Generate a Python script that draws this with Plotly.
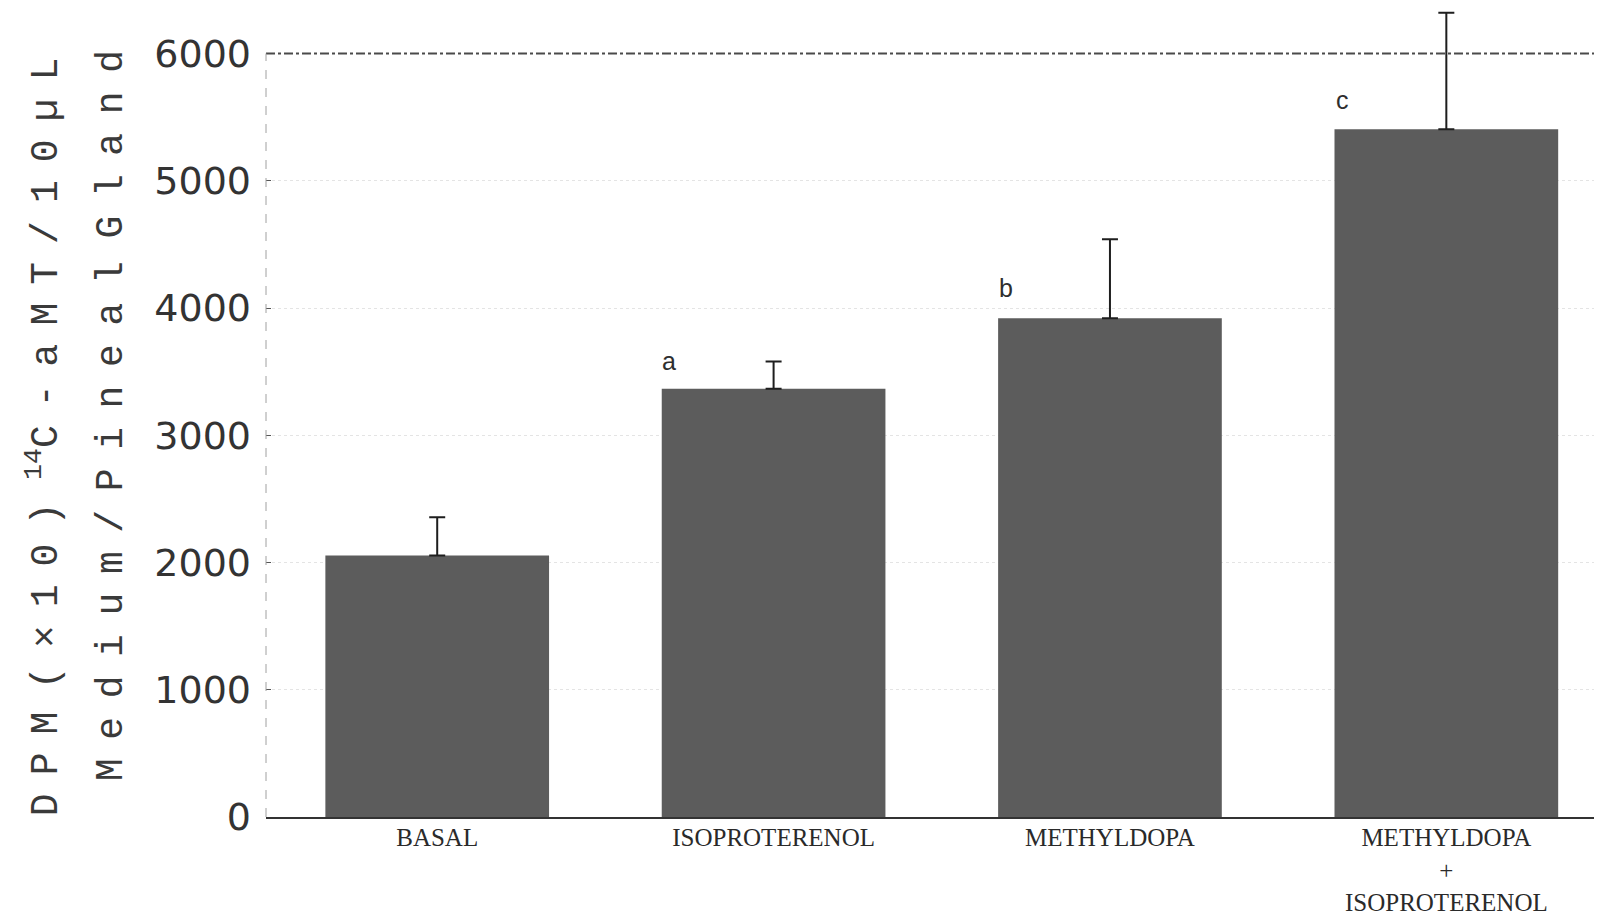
import plotly.graph_objects as go

categories = ["BASAL", "ISOPROTERENOL", "METHYLDOPA", "METHYLDOPA<br>+<br>ISOPROTERENOL"]
means = [2055, 3365, 3920, 5405]
sem = [300, 215, 620, 915]
sig_labels = ["", "a", "b", "c"]
sig_label_y = [None, 3582, 4156, 5633]
y_ticks = [0, 1000, 2000, 3000, 4000, 5000, 6000]
title_line1 = ["D", "P", "M", " ", "(", "×", "1", "0", ")", " ", "<sup>14</sup>C", "-", "a", "M", "T", "/", "1", "0", "µ", "L"]
title_line2 = ["M", "e", "d", "i", "u", "m", "/", "P", "i", "n", "e", "a", "l", " ", "G", "l", "a", "n", "d"]

x_idx = list(range(len(categories)))

fig = go.Figure()
fig.add_trace(go.Bar(
    x=x_idx, y=means,
    marker=dict(color="#5c5c5c", line=dict(width=0)),
    width=0.665,
    error_y=dict(type="data", array=sem, arrayminus=[0] * len(sem), symmetric=False,
                 color="#1e1e1e", thickness=2, width=8),
    cliponaxis=False,
    showlegend=False,
    hoverinfo="skip",
))

annotations = []
for i, (lab, ly) in enumerate(zip(sig_labels, sig_label_y)):
    if not lab:
        continue
    annotations.append(dict(
        x=i - 0.31, y=ly, text=lab, showarrow=False,
        font=dict(family="Liberation Sans, Arial", size=25, color="#2e2e2e"),
        xanchor="center", yanchor="middle",
    ))


def spaced(tokens, spacer_px):
    out = []
    for k, t in enumerate(tokens):
        if t == " ":
            out.append("\u00a0")
            continue
        out.append(t)
        if k < len(tokens) - 1 and tokens[k + 1] != " ":
            out.append('<span style="font-size:%dpx">\u00a0</span>' % spacer_px)
    return "".join(out)


line1 = spaced(title_line1, 30)
line2 = spaced(title_line2, 31)
title_font = dict(family="Liberation Mono, Courier New, monospace", size=38, color="#3a3a3a")
annotations.append(dict(xref="paper", yref="y", x=0, xshift=43 - 266, y=2985, text=line1,
                        textangle=-90, showarrow=False, font=title_font,
                        xanchor="center", yanchor="middle"))
annotations.append(dict(xref="paper", yref="y", x=0, xshift=111 - 266, y=3150, text=line2,
                        textangle=-90, showarrow=False, font=title_font,
                        xanchor="center", yanchor="middle"))

shapes = [
    dict(type="line", xref="paper", yref="y", x0=0, x1=1, y0=6000, y1=6000,
         line=dict(color="#4a4a4a", width=2, dash="dashdot")),
    dict(type="line", xref="paper", yref="y", x0=0, x1=0, y0=0, y1=6000,
         line=dict(color="#a0a0a0", width=1, dash="dash")),
]

fig.update_layout(
    width=1607, height=915,
    margin=dict(l=266, r=13, t=9, b=98),
    plot_bgcolor="white", paper_bgcolor="white",
    bargap=0.335,
    annotations=annotations,
    shapes=shapes,
    xaxis=dict(
        range=[-0.509, 3.439],
        tickmode="array", tickvals=x_idx, ticktext=categories,
        showgrid=False, zeroline=False, automargin=False,
        showline=True, linecolor="#333333", linewidth=2,
        ticks="",
        tickfont=dict(family="Liberation Serif, Times New Roman, serif", size=25, color="#2a2a2a"),
        ticklabelstandoff=-3,
    ),
    yaxis=dict(
        range=[0, 6350],
        tickmode="array", tickvals=y_ticks,
        showgrid=True, gridcolor="#e4e4e4", griddash="dot", gridwidth=1,
        zeroline=False, showline=False, automargin=False,
        ticks="inside", ticklen=5, tickcolor="#555555", tickwidth=1,
        tickfont=dict(family="DejaVu Sans, sans-serif", size=38, color="#333333"),
        ticklabelstandoff=14,
    ),
)

fig.write_html("out.html", config={"displayModeBar": False},
               post_script="document.body.style.margin='0';document.body.style.overflow='hidden';")
